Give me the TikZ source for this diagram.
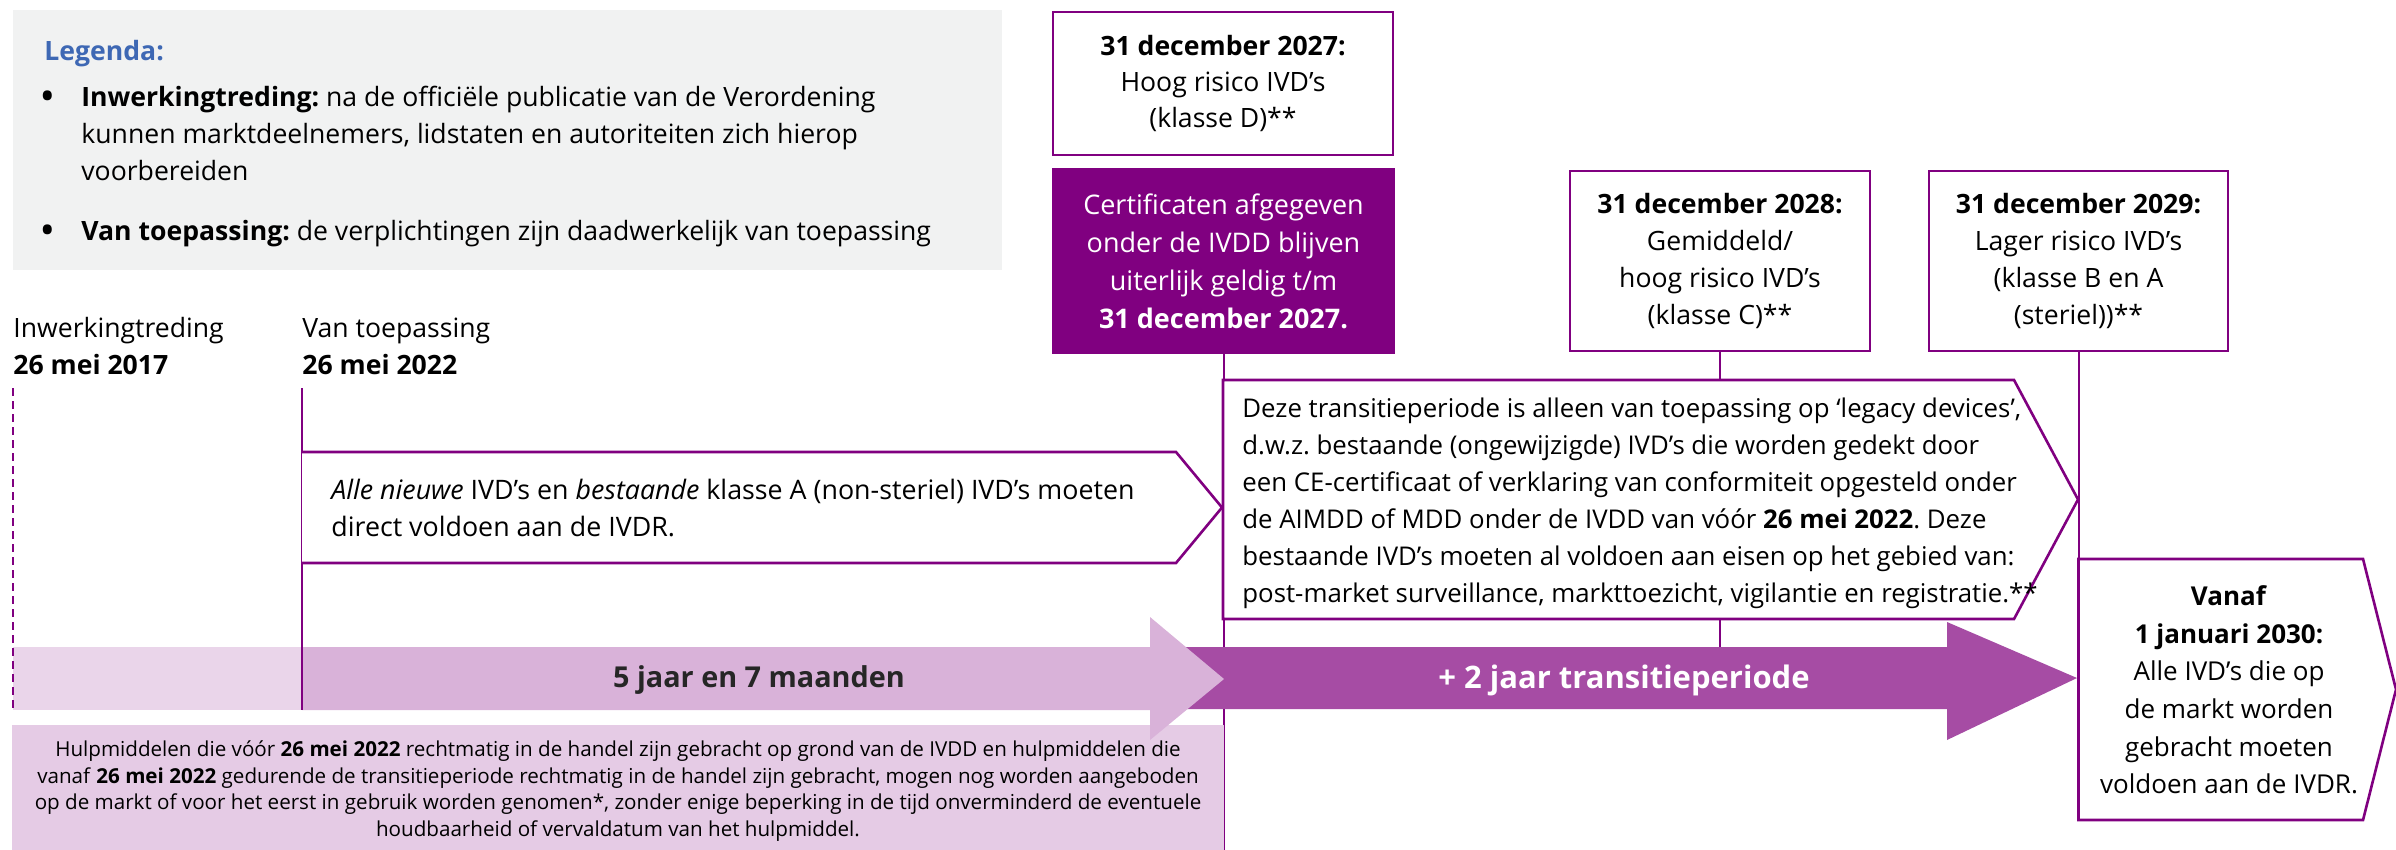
\documentclass[tikz,border=0pt]{standalone}
\usepackage{fontspec}
\setmainfont{Open Sans}
\frenchspacing
\definecolor{ivdpurple}{HTML}{800080}
\definecolor{legendgray}{HTML}{F1F2F2}
\definecolor{legendblue}{HTML}{3E68B4}
\definecolor{bandlight}{HTML}{EAD5EA}
\definecolor{bandmid}{HTML}{D9B2D9}
\definecolor{banddark}{HTML}{A64CA4}
\definecolor{notefill}{HTML}{E5CBE5}
\begin{document}
\begin{tikzpicture}[x=0.5pt,y=-0.5pt,
    every node/.style={inner sep=0pt},
    txt/.style={font=\fontsize{13.3}{18.5}\selectfont},
    datebox/.style={draw=ivdpurple,line width=1.3pt,align=center,txt},
    ivdline/.style={draw=ivdpurple,line width=1pt},
    shapeline/.style={draw=ivdpurple,line width=1.3pt,fill=white}]
  \useasboundingbox (0,0) rectangle (2396,850);
  % the legend
  \fill[legendgray] (13,10) rectangle (1002,270);
  \node[anchor=base west,font=\bfseries\fontsize{13.3}{18}\selectfont,text=legendblue] (legtitle) at (44,61) {Legenda:};
  \node[anchor=base west,font=\bfseries\fontsize{16}{18}\selectfont] (bul1) at (41,108) {\textbullet};
  \node[anchor=base west,font=\bfseries\fontsize{16}{18}\selectfont] (bul2) at (41,242) {\textbullet};
  % (base of a node with more lines = base of its last line)
  \node[anchor=base west,txt,align=left] (leg1) at (81,181)
    {\textbf{Inwerkingtreding:} na de officiële publicatie van de Verordening\\
     kunnen marktdeelnemers, lidstaten en autoriteiten zich hierop\\
     voorbereiden};
  \node[anchor=base west,txt] (leg2) at (81,241)
    {\textbf{Van toepassing:} de verplichtingen zijn daadwerkelijk van toepassing};
  % the two start dates
  \node[anchor=base west,txt,align=left] (inw) at (13,374) {Inwerkingtreding\\\textbf{26 mei 2017}};
  \node[anchor=base west,txt,align=left] (toep) at (302,374) {Van toepassing\\\textbf{26 mei 2022}};
  \coordinate (inwtop) at (13,388);
  \coordinate (inwbot) at (13,710);
  \coordinate (toeptop) at (302,388);
  \coordinate (toepbot) at (302,710);
  % boxes at the top
  \node[datebox,font=\fontsize{13.3}{18}\selectfont,minimum width=170pt,minimum height=71.5pt] (klasD) at (1223,83.5)
    {\textbf{31 december 2027:}\\Hoog risico IVD’s\\(klasse D)**};
  \node[datebox,font=\fontsize{13.5}{19}\selectfont,fill=ivdpurple,text=white,minimum width=170.5pt,minimum height=92pt] (cert) at (1223.5,261)
    {Certificaten afgegeven\\onder de IVDD blijven\\uiterlijk geldig t/m\\\textbf{31 december 2027.}};
  \node[datebox,minimum width=150pt,minimum height=90pt] (klasC) at (1720,261)
    {\textbf{31 december 2028:}\\Gemiddeld/\\hoog risico IVD’s\\(klasse C)**};
  \node[datebox,minimum width=149.5pt,minimum height=90pt] (klasB) at (2078.5,261)
    {\textbf{31 december 2029:}\\Lager risico IVD’s\\(klasse B en A\\(steriel))**};
  \coordinate (certbot) at (1223.5,850);
  \coordinate (trtop) at (1720,380);
  \coordinate (trbot) at (1720,619);
  \coordinate (bandtop) at (1720,647);
  \coordinate (vanaftop) at (2078.5,559);
  %% connectors behind the arrows
  \draw[ivdline] (cert.south) -- (certbot);
  \draw[ivdline] (klasC.south) -- (trtop);
  \draw[ivdline] (trbot) -- (bandtop);
  \draw[ivdline] (klasB.south) -- (vanaftop);
  % note below the first arrow
  \node[fill=notefill,minimum width=606pt,minimum height=62.5pt] (noteback) at (618,787.5) {};
  \node[align=center,font=\fontsize{10.3}{13.2}\selectfont] (note) at (618,791)
    {Hulpmiddelen die vóór \textbf{26 mei 2022} rechtmatig in de handel zijn gebracht op grond van de IVDD en hulpmiddelen die\\
     vanaf \textbf{26 mei 2022} gedurende de transitieperiode rechtmatig in de handel zijn gebracht, mogen nog worden aangeboden\\
     op de markt of voor het eerst in gebruik worden genomen*, zonder enige beperking in de tijd onverminderd de eventuele\\
     houdbaarheid of vervaldatum van het hulpmiddel.};
  % the two arrows
  \fill[bandlight] (13,647) rectangle (302,710);
  \fill[banddark] (1150,647) -- (1947,647) -- (1947,622) -- (2077,678) -- (1947,740) -- (1947,709) -- (1150,709) -- cycle;
  \fill[bandmid] (302,647) -- (1150,647) -- (1150,617) -- (1224,679) -- (1150,740) -- (1150,710) -- (302,710) -- cycle;
  \node[font=\bfseries\fontsize{14.4}{18}\selectfont,text=black!85] (periode) at (759,680) {5 jaar en 7 maanden};
  \node[font=\bfseries\fontsize{15.5}{18}\selectfont,text=white] (transitie) at (1624,680) {+ 2 jaar transitieperiode};
  \draw[ivdline,dashed,dash pattern=on 4pt off 2.5pt] (inwtop) -- (inwbot);
  \draw[ivdline] (toeptop) -- (toepbot);
  % pentagons
  \draw[shapeline] (302,452) -- (1176,452) -- (1222,507.5) -- (1176,563) -- (302,563);
  \node[anchor=west,align=left,font=\fontsize{13.4}{18.5}\selectfont] (nieuw) at (331,508)
    {\textit{Alle nieuwe} IVD’s en \textit{bestaande} klasse A (non-steriel) IVD’s moeten\\direct voldoen aan de IVDR.};
  \draw[shapeline] (1223,380) -- (2014,380) -- (2078,499.5) -- (2014,619) -- (1223,619) -- cycle;
  \node[anchor=west,align=left,font=\fontsize{12.9}{18.5}\selectfont] (legacy) at (1242,503)
    {Deze transitieperiode is alleen van toepassing op ‘legacy devices’,\\
     d.w.z. bestaande (ongewijzigde) IVD’s die worden gedekt door\\
     een CE-certificaat of verklaring van conformiteit opgesteld onder\\
     de AIMDD of MDD onder de IVDD van vóór \textbf{26 mei 2022}. Deze\\
     bestaande IVD’s moeten al voldoen aan eisen op het gebied van:\\
     post-market surveillance, markttoezicht, vigilantie en registratie.**};
  \draw[shapeline] (2078.5,559) -- (2363,559) -- (2396,689.5) -- (2363,820) -- (2078.5,820) -- cycle;
  \node[align=center,font=\fontsize{13}{18.8}\selectfont] (vanaf) at (2229,690)
    {\textbf{Vanaf}\\\textbf{1 januari 2030:}\\Alle IVD’s die op\\de markt worden\\gebracht moeten\\voldoen aan de IVDR.};
\end{tikzpicture}
\end{document}
